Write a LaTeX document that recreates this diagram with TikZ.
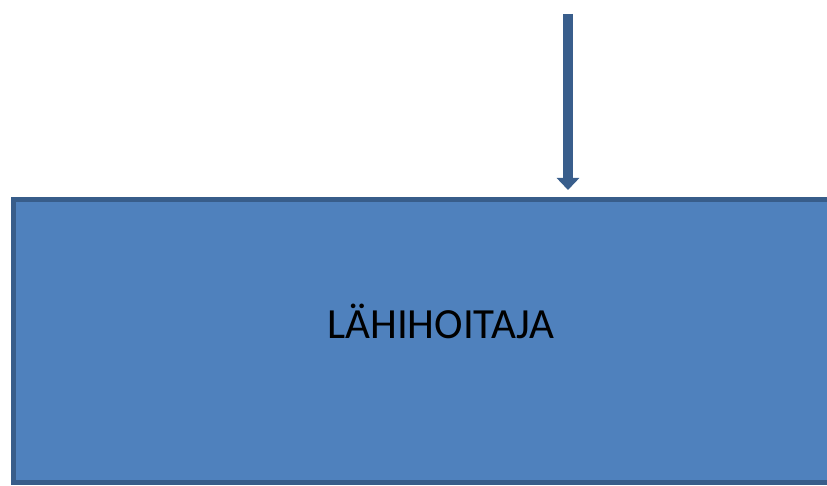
\documentclass[tikz,border=0pt]{standalone}
\usepackage{fontspec}
\setmainfont{Carlito}
\usetikzlibrary{arrows.meta}
\definecolor{boxfill}{HTML}{4F81BD}
\definecolor{boxline}{HTML}{385D8A}
\definecolor{arrowcol}{HTML}{395E8C}
\tikzset{
  bigbox/.style={draw=boxline, fill=boxfill, line width=5pt, rectangle, minimum width=828pt, minimum height=283pt, inner sep=0pt, outer sep=0pt},
  downarrow/.style={draw=arrowcol, line width=10pt, -{Triangle[width=22pt,length=12pt]}},
  lbl/.style={font=\fontsize{43}{50}\selectfont, text=black, inner sep=0pt}
}
\begin{document}
\begin{tikzpicture}[x=1pt,y=-1pt]
\useasboundingbox (0,0) rectangle (827,486);
\clip (0,0) rectangle (827,486);
\node[bigbox, anchor=north west] (box) at (13.5,199.5) {};
\node[lbl, anchor=base] (label) at (441,338) {LÄHIHOITAJA};
\coordinate (start) at (568,14);
\coordinate (tip) at (568,190);
\draw[downarrow] (start) -- (tip);
\end{tikzpicture}
\end{document}
